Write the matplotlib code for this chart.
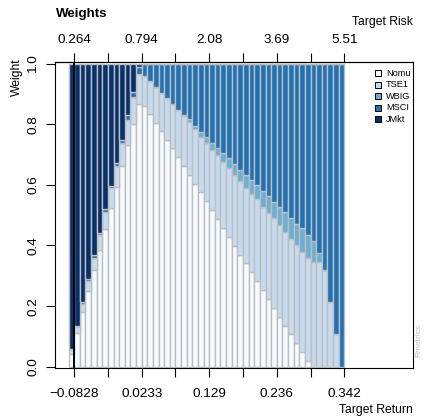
import numpy as np
import matplotlib
matplotlib.use("Agg")
import matplotlib.pyplot as plt
from matplotlib.patches import Rectangle

# weights along the frontier, one value per portfolio (49 portfolios)
assets = ["Nomu", "TSE1", "WBIG", "MSCI", "JMkt"]
nomu = [0.042, 0.113, 0.181, 0.249, 0.318, 0.386, 0.455, 0.524, 0.593, 0.663,
        0.732, 0.801, 0.868, 0.860, 0.832, 0.804, 0.777, 0.749, 0.722, 0.692,
        0.663, 0.634, 0.604, 0.575, 0.547, 0.518, 0.488, 0.458, 0.429, 0.399,
        0.370, 0.341, 0.311, 0.282, 0.253, 0.223, 0.195, 0.165, 0.135, 0.107,
        0.077, 0.049, 0.020, 0.0, 0.0, 0.0, 0.0, 0.0, 0.0]
tse1 = [0.015, 0.022, 0.027, 0.033, 0.040, 0.048, 0.056, 0.064, 0.069, 0.075,
        0.081, 0.089, 0.096, 0.099, 0.110, 0.119, 0.126, 0.136, 0.143, 0.154,
        0.165, 0.174, 0.180, 0.183, 0.191, 0.198, 0.210, 0.218, 0.225, 0.233,
        0.242, 0.250, 0.260, 0.270, 0.274, 0.285, 0.294, 0.302, 0.310, 0.316,
        0.324, 0.330, 0.340, 0.344, 0.344, 0.319, 0.212, 0.107, 0.0]
wbig = [0.0, 0.0, 0.0, 0.0, 0.0, 0.0, 0.0, 0.0, 0.0, 0.0,
        0.0, 0.0, 0.0, 0.0, 0.0, 0.0, 0.0, 0.0, 0.0, 0.0,
        0.003, 0.008, 0.010, 0.016, 0.020, 0.023, 0.025, 0.030, 0.033, 0.037,
        0.038, 0.043, 0.044, 0.047, 0.052, 0.055, 0.055, 0.060, 0.066, 0.068,
        0.071, 0.077, 0.076, 0.070, 0.030, 0.0, 0.0, 0.0, 0.0]
msci = [0.0, 0.0, 0.005, 0.007, 0.009, 0.008, 0.009, 0.009, 0.011, 0.011,
        0.016, 0.016, 0.026, 0.041, 0.058, 0.077, 0.097, 0.115, 0.135, 0.154,
        0.169, 0.184, 0.206, 0.226, 0.242, 0.261, 0.277, 0.294, 0.313, 0.331,
        0.350, 0.366, 0.385, 0.401, 0.421, 0.437, 0.456, 0.473, 0.489, 0.509,
        0.528, 0.544, 0.564, 0.586, 0.626, 0.681, 0.788, 0.893, 1.0]
jmkt = [0.943, 0.865, 0.787, 0.711, 0.633, 0.558, 0.480, 0.403, 0.327, 0.251,
        0.171, 0.094, 0.010, 0.0, 0.0, 0.0, 0.0, 0.0, 0.0, 0.0,
        0.0, 0.0, 0.0, 0.0, 0.0, 0.0, 0.0, 0.0, 0.0, 0.0,
        0.0, 0.0, 0.0, 0.0, 0.0, 0.0, 0.0, 0.0, 0.0, 0.0,
        0.0, 0.0, 0.0, 0.0, 0.0, 0.0, 0.0, 0.0, 0.0]

tick_pos = [1, 7, 13, 19, 25, 31, 37, 43, 49]
return_labels = ["\u22120.0828", "", "0.0233", "", "0.129", "", "0.236", "", "0.342"]
risk_labels = ["0.264", "", "0.794", "", "2.08", "", "3.69", "", "5.51"]
min_var_index = 1

colors = ["#F7FBFF", "#C6DBEF", "#6BAED6", "#2171B5", "#08306B"]

W, H = 425, 417


def fx(px):
    return px / W


def fy(py):
    return 1 - py / H


def main(fs=9.7, fs_lab=8.7):
    plt.rcParams['font.family'] = ['Liberation Sans', 'DejaVu Sans']
    fig = plt.figure(figsize=(W / 100, H / 100), dpi=100)
    ax = fig.add_axes([fx(55.3), fy(368.3), fx(412.7) - fx(55.3), fy(62) - fy(368.3)])

    weights = [nomu, tse1, wbig, msci, jmkt]
    n = len(nomu)
    x = np.arange(n) + 0.5
    bottom = np.zeros(n)
    for w, c in zip(weights, colors):
        w = np.array(w)
        ax.bar(x, w, width=1.0, bottom=bottom, color=c, edgecolor='#BEBEBE',
               linewidth=1.0, zorder=2)
        bottom = bottom + w

    ax.axvline(min_var_index, color='black', lw=1.4, zorder=3)

    xmax = n * 1.2
    ax.set_xlim(-0.04 * xmax, 1.04 * xmax)
    ax.set_ylim(-0.005, 1.005)

    for s in ax.spines.values():
        s.set_linewidth(0.8)

    ax.set_xticks(tick_pos)
    ax.set_xticklabels(return_labels)
    ax.set_yticks([0, 0.2, 0.4, 0.6, 0.8, 1.0])
    ax.set_yticklabels(["0.0", "0.2", "0.4", "0.6", "0.8", "1.0"], rotation=90, va='center')
    ax.tick_params(axis='x', length=6.5, width=0.8, pad=8, labelsize=fs)
    ax.tick_params(axis='y', length=6.5, width=0.8, pad=5, labelsize=fs)

    top = ax.secondary_xaxis('top')
    top.set_xticks(tick_pos)
    top.set_xticklabels(risk_labels)
    top.tick_params(length=6.5, width=0.8, pad=5, labelsize=fs)

    fig.text(fx(56), fy(17.5), "Weights", fontsize=9.6, fontweight='bold',
             ha='left', va='baseline')
    fig.text(fx(412.5), fy(24.5), "Target Risk", fontsize=fs_lab, ha='right', va='baseline')
    fig.text(fx(412.5), fy(413.5), "Target Return", fontsize=fs_lab, ha='right', va='baseline')
    fig.text(fx(16.5), fy(58), "Weight", fontsize=fs_lab, rotation=90, ha='center', va='top')
    fig.text(fx(419), fy(357), "Rmetrics", fontsize=6, rotation=90, color='#BEBEBE',
             ha='center', va='bottom')

    # legend, top right inside the box
    for i, (name, c) in enumerate(zip(assets, colors)):
        yc = 73.3 + i * 11.5
        fig.patches.append(Rectangle((fx(375), fy(yc + 3)), fx(6), fy(0) - fy(6),
                                     transform=fig.transFigure, facecolor=c,
                                     edgecolor='black', linewidth=0.7))
        fig.text(fx(386), fy(yc), name, fontsize=6.6, ha='left', va='center')

    fig.savefig("out.png", dpi=100)
    return 0


if __name__ == "__main__":
    main()
